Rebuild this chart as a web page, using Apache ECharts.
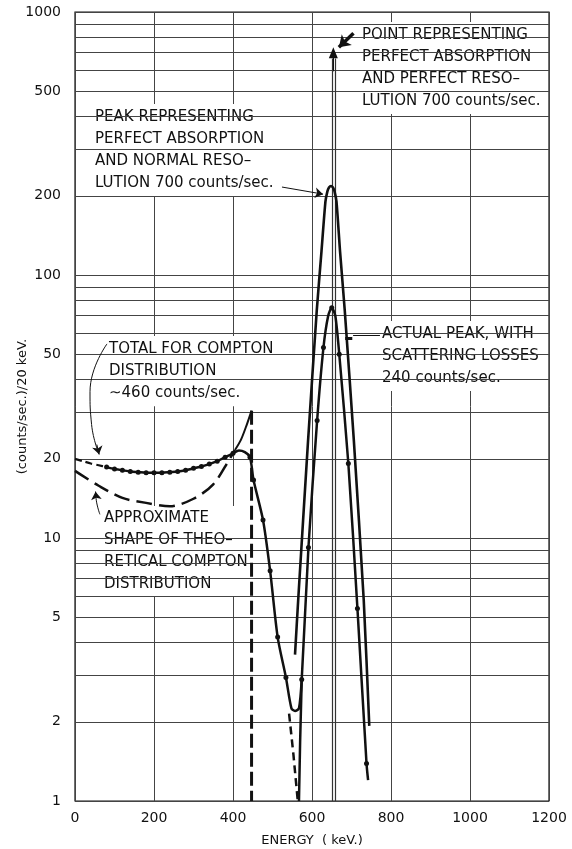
<!DOCTYPE html>
<html>
<head>
<meta charset="utf-8">
<script src="https://cdn.jsdelivr.net/npm/echarts@6/dist/echarts.min.js"></script>
<style>
  html, body { margin: 0; padding: 0; background: #fff; }
  #chart { width: 572px; height: 849px; }
</style>
</head>
<body>
<div id="chart"></div>
<script>
const FONT = '"DejaVu Sans", sans-serif';
const INK = '#111';
const GRID_INK = '#444';

const energyTicks = [0, 200, 400, 600, 800, 1000, 1200];
const rateTicks = [1, 2, 5, 10, 20, 50, 100, 200, 500, 1000];
const rateGrid = [1, 2, 3, 4, 5, 6, 7, 8, 9, 10, 20, 30, 40, 50, 60, 70, 80, 90,
                  100, 200, 300, 400, 500, 600, 700, 800, 900, 1000];

// measured spectrum, Compton part + photopeak
const measuredKeV = [0, 20, 40, 60, 80, 100, 120, 140, 160, 180, 200, 220, 240, 260, 280, 300,
                     320, 340, 360, 380, 400, 415, 430, 443, 452, 476, 494, 513, 534, 548, 557,
                     567, 574, 591, 613, 629, 641, 650, 659, 669, 692, 715, 738, 742];
const measuredRate = [20.0, 19.6, 19.2, 18.9, 18.6, 18.3, 18.1, 17.9, 17.8, 17.7, 17.7, 17.7, 17.8,
                      17.9, 18.1, 18.4, 18.7, 19.1, 19.6, 20.3, 21.0, 21.5, 21.2, 20.3, 16.6, 11.7,
                      7.5, 4.2, 2.95, 2.25, 2.2, 2.25, 2.9, 9.2, 28, 53, 70, 75, 70, 50, 19.2, 5.4, 1.39, 1.2];
const undottedKeV = [0, 20, 40, 60, 415, 430, 548, 557, 567, 641, 659, 742];
const dashedUpToKeV = 80;

// theoretical Compton shape
const theoKeV = [0, 60, 120, 180, 240, 300, 350, 390, 405];
const theoRate = [18, 15.8, 14.2, 13.6, 13.2, 14.1, 16.0, 19.8, 21.6];
const theoRiseKeV = [405, 420, 435, 447];
const theoRiseRate = [21.6, 23.6, 27, 30.5];
const edgeKeV = [447, 447];
const edgeRate = [30.5, 1];

// peak with perfect absorption, normal resolution
const normalKeV = [557, 565, 590, 612, 624, 634, 639, 643, 648, 653, 657, 662, 671, 683, 706, 731, 745];
const normalRate = [3.6, 5.8, 23.4, 73, 123, 190, 208, 215, 218, 215, 208, 190, 123, 73, 23.4, 5.8, 1.93];

// extrapolated tails under the valley
const comptonTailKeV = [542, 553, 564];
const comptonTailRate = [2.15, 1.5, 1.0];
const peakTailKeV = [574, 570, 567];
const peakTailRate = [2.9, 1.7, 1.0];

// perfect-resolution line
const spikeKeV = [650, 658];
const spikeRate = 700;

// curved leaders of the two Compton notes
const totalLeaderKeV = [81, 38, 42, 61];
const totalLeaderRate = [54.7, 36, 27, 20.8];
const theoLeaderKeV = [63, 55, 52];
const theoLeaderRate = [12.3, 13.6, 15.0];

const chart = echarts.init(document.getElementById('chart'), null, {renderer: 'canvas'});

function pairs(xs, ys) {
    return xs.map((x, i) => [x, ys[i]]);
}

function lineSeries(xs, ys, style, extra) {
    return Object.assign({
        type: 'line',
        data: pairs(xs, ys),
        smooth: 0.3,
        showSymbol: false,
        symbol: 'none',
        z: 10,
        silent: true,
        lineStyle: Object.assign({color: INK, width: 2.5}, style)
    }, extra || {});
}

const measuredData = measuredKeV.map((x, i) => {
    const item = {value: [x, measuredRate[i]]};
    if (undottedKeV.includes(x)) item.symbol = 'none';
    return item;
});
const splitAt = measuredKeV.indexOf(dashedUpToKeV);

const gridLines = rateGrid.map(v => ({
    yAxis: v,
    label: {show: rateTicks.includes(v), formatter: String(v)}
}));

function arrow(from, to, width, head, size) {
    return [
        {coord: from, symbol: 'none', lineStyle: {color: INK, width: width, type: 'solid'}},
        {coord: to, symbol: head || 'none', symbolSize: size || 8}
    ];
}

function lastStep(xs, ys) {
    const n = xs.length;
    return [[xs[n - 2] * 0.3 + xs[n - 1] * 0.7, ys[n - 2] * 0.3 + ys[n - 1] * 0.7], [xs[n - 1], ys[n - 1]]];
}

function note(left, top, text, pad) {
    return {
        type: 'text', left: left, top: top, z: 5, silent: true,
        style: {text: text, font: '15px ' + FONT, fill: INK, lineHeight: 22,
                backgroundColor: '#fff', padding: pad || [2, 4]}
    };
}

const mid = (spikeKeV[0] + spikeKeV[1]) / 2;
const totalHead = lastStep(totalLeaderKeV, totalLeaderRate);
const theoHead = lastStep(theoLeaderKeV, theoLeaderRate);

const option = {
    backgroundColor: '#fff',
    animation: false,
    grid: {left: 75, right: 23, top: 12, bottom: 48, show: true, borderColor: INK, borderWidth: 1.2,
           outerBoundsMode: 'none', containLabel: false},
    xAxis: {
        type: 'value', min: 0, max: 1200, interval: 200,
        name: 'ENERGY  ( keV.)', nameLocation: 'middle', nameGap: 33,
        nameTextStyle: {fontFamily: FONT, fontSize: 13, color: INK},
        axisLine: {show: false}, axisTick: {show: false},
        axisLabel: {fontFamily: FONT, fontSize: 14, color: INK, margin: 10,
                    formatter: v => energyTicks.includes(v) ? String(v) : ''},
        splitLine: {show: true, lineStyle: {color: GRID_INK, width: 1}}
    },
    yAxis: {
        type: 'log', logBase: 10, min: 1, max: 1000,
        name: '(counts/sec.)/20 keV.', nameLocation: 'middle', nameGap: 46, nameRotate: 90,
        nameTextStyle: {fontFamily: FONT, fontSize: 13, color: INK},
        axisLine: {show: false}, axisTick: {show: false},
        axisLabel: {show: false}, splitLine: {show: false}
    },
    graphic: [
        note(91, 104, 'PEAK REPRESENTING\nPERFECT ABSORPTION\nAND NORMAL RESO–\nLUTION 700 counts/sec.'),
        note(358, 22, 'POINT REPRESENTING\nPERFECT ABSORPTION\nAND PERFECT RESO–\nLUTION 700 counts/sec.'),
        note(105, 336, 'TOTAL FOR COMPTON\nDISTRIBUTION\n∼460 counts/sec.'),
        note(100, 506, 'APPROXIMATE\nSHAPE OF THEO–\nRETICAL COMPTON\nDISTRIBUTION', [1, 4]),
        note(378, 321, 'ACTUAL PEAK, WITH\nSCATTERING LOSSES\n240 counts/sec.')
    ],
    series: [
        {
            type: 'line', data: [], z: 1, silent: true,
            markLine: {
                silent: true, symbol: 'none', animation: false,
                lineStyle: {color: GRID_INK, width: 1, type: 'solid'},
                label: {position: 'start', distance: 14, fontFamily: FONT, fontSize: 14, color: INK},
                emphasis: {disabled: true},
                data: gridLines
            }
        },
        lineSeries(theoKeV, theoRate, {type: [16, 7], width: 2.5}),
        lineSeries(theoRiseKeV, theoRiseRate, {width: 2}),
        lineSeries(edgeKeV, edgeRate, {type: [14, 5], width: 3}, {smooth: false}),
        lineSeries(normalKeV, normalRate, {width: 2.6}, {smooth: 0.2}),
        lineSeries(comptonTailKeV, comptonTailRate, {type: [8, 5], width: 2.5}, {smooth: false}),
        lineSeries(peakTailKeV, peakTailRate, {width: 2.5}, {smooth: false}),
        lineSeries(measuredKeV.slice(0, splitAt + 1), measuredRate.slice(0, splitAt + 1),
                   {type: [7, 4], width: 2.2}, {smooth: 0.25}),
        {
            type: 'line', data: measuredData.slice(splitAt), smooth: 0.25, z: 11, silent: true,
            showSymbol: true, symbol: 'circle', symbolSize: 5,
            itemStyle: {color: INK}, lineStyle: {color: INK, width: 2.5}
        },
        lineSeries(totalLeaderKeV, totalLeaderRate, {width: 1}, {smooth: 0.5, z: 12}),
        lineSeries(theoLeaderKeV, theoLeaderRate, {width: 1}, {smooth: 0.5, z: 12}),
        {
            type: 'line', data: [], z: 12, silent: true,
            markLine: {
                silent: true, animation: false, emphasis: {disabled: true},
                label: {show: false},
                lineStyle: {color: INK, width: 1, type: 'solid'},
                data: [
                    [{coord: [spikeKeV[0], 1], symbol: 'none', lineStyle: {color: '#333', width: 1.2}},
                     {coord: [spikeKeV[0], spikeRate * 0.95], symbol: 'none'}],
                    [{coord: [spikeKeV[1], 1], symbol: 'none', lineStyle: {color: '#333', width: 1.2}},
                     {coord: [spikeKeV[1], spikeRate * 0.95], symbol: 'none'}],
                    arrow([mid, spikeRate * 0.85], [mid, spikeRate], 1, 'triangle', [9, 11]),
                    arrow([705, 830], [668, 735], 3.5, 'arrow', 11),
                    arrow([524, 216], [628, 203], 1, 'arrow', 8),
                    arrow([772, 59], [704, 59], 1),
                    arrow([702, 57.5], [684, 57.5], 3),
                    arrow(totalHead[0], totalHead[1], 1, 'arrow', 8),
                    arrow(theoHead[0], theoHead[1], 1, 'arrow', 8)
                ]
            }
        }
    ]
};

chart.setOption(option);
</script>
</body>
</html>
